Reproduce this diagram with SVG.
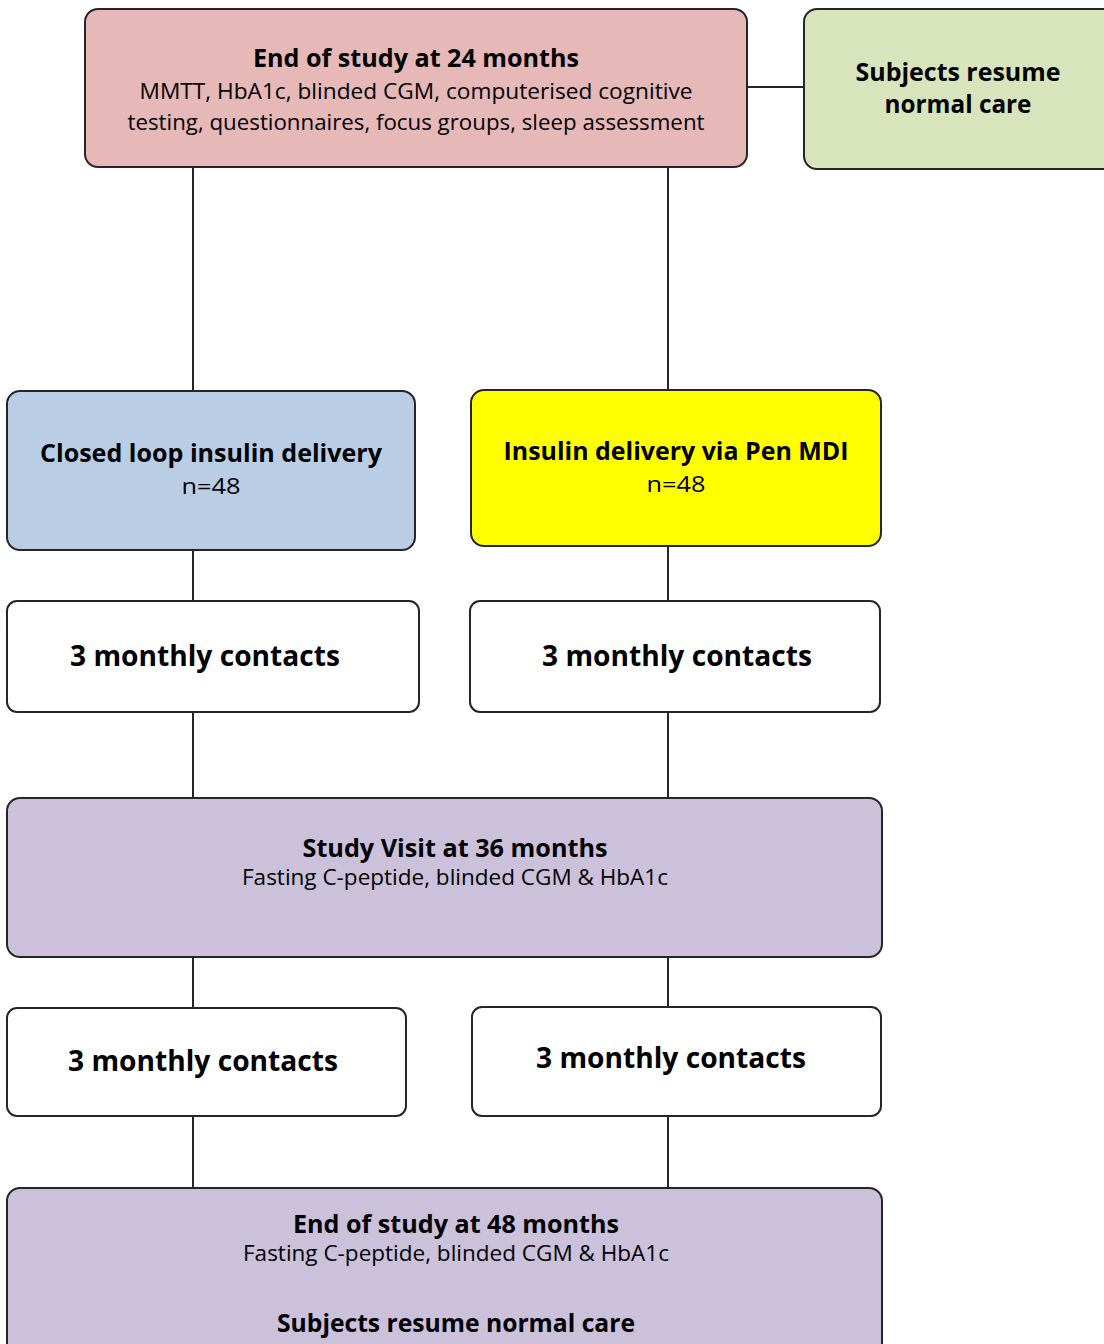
<svg xmlns="http://www.w3.org/2000/svg" width="1104" height="1344" viewBox="0 0 1104 1344">
<style>
.box{stroke:#262626;stroke-width:2}
.ln{stroke:#262626;stroke-width:2;fill:none}
text{font-family:"Open Sans","Noto Sans","Liberation Sans",sans-serif;fill:#000;text-anchor:middle}
.b{font-weight:bold}
.t{font-size:25px}
.s{font-size:21px}
.c{font-size:29px}
</style>
<rect width="1104" height="1344" fill="#ffffff"/>
<g id="connectors">
<line class="ln" x1="747" y1="87" x2="804" y2="87"/>
<line class="ln" x1="193" y1="167" x2="193" y2="391"/>
<line class="ln" x1="668" y1="167" x2="668" y2="390"/>
<line class="ln" x1="193" y1="550" x2="193" y2="601"/>
<line class="ln" x1="668" y1="546" x2="668" y2="601"/>
<line class="ln" x1="193" y1="712" x2="193" y2="798"/>
<line class="ln" x1="668" y1="712" x2="668" y2="798"/>
<line class="ln" x1="193" y1="957" x2="193" y2="1008"/>
<line class="ln" x1="668" y1="957" x2="668" y2="1007"/>
<line class="ln" x1="193" y1="1116" x2="193" y2="1188"/>
<line class="ln" x1="668" y1="1116" x2="668" y2="1188"/>
</g>
<g id="end24">
<rect class="box" x="85" y="9" width="662" height="158" rx="13" fill="#e6b8b7"/>
<text class="b t" x="416" y="67" textLength="326" lengthAdjust="spacingAndGlyphs">End of study at 24 months</text>
<text class="s" x="416" y="99" textLength="553" lengthAdjust="spacingAndGlyphs">MMTT, HbA1c, blinded CGM, computerised cognitive</text>
<text class="s" x="416" y="130" textLength="577" lengthAdjust="spacingAndGlyphs">testing, questionnaires, focus groups, sleep assessment</text>
</g>
<g id="resume-top">
<rect class="box" x="804" y="9" width="320" height="160" rx="13" fill="#d7e4bc"/>
<text class="b t" x="958" y="81" textLength="205" lengthAdjust="spacingAndGlyphs">Subjects resume</text>
<text class="b t" x="958" y="113" textLength="147" lengthAdjust="spacingAndGlyphs">normal care</text>
</g>
<g id="closed-loop">
<rect class="box" x="7" y="391" width="408" height="159" rx="13" fill="#b9cde5"/>
<text class="b t" x="211" y="462" textLength="342" lengthAdjust="spacingAndGlyphs">Closed loop insulin delivery</text>
<text class="s" x="211" y="494" textLength="59" lengthAdjust="spacingAndGlyphs">n=48</text>
</g>
<g id="pen-mdi">
<rect class="box" x="471" y="390" width="410" height="156" rx="13" fill="#ffff00"/>
<text class="b t" x="676" y="460" textLength="345" lengthAdjust="spacingAndGlyphs">Insulin delivery via Pen MDI</text>
<text class="s" x="676" y="492" textLength="59" lengthAdjust="spacingAndGlyphs">n=48</text>
</g>
<g id="contacts1-left">
<rect class="box" x="7" y="601" width="412" height="111" rx="10" fill="#ffffff"/>
<text class="b c" x="205" y="666" textLength="270" lengthAdjust="spacingAndGlyphs">3 monthly contacts</text>
</g>
<g id="contacts1-right">
<rect class="box" x="470" y="601" width="410" height="111" rx="10" fill="#ffffff"/>
<text class="b c" x="677" y="666" textLength="270" lengthAdjust="spacingAndGlyphs">3 monthly contacts</text>
</g>
<g id="visit36">
<rect class="box" x="7" y="798" width="875" height="159" rx="13" fill="#ccc1da"/>
<text class="b t" x="455" y="857" textLength="305" lengthAdjust="spacingAndGlyphs">Study Visit at 36 months</text>
<text class="s" x="455" y="885" textLength="426" lengthAdjust="spacingAndGlyphs">Fasting C-peptide, blinded CGM &amp; HbA1c</text>
</g>
<g id="contacts2-left">
<rect class="box" x="7" y="1008" width="399" height="108" rx="10" fill="#ffffff"/>
<text class="b c" x="203" y="1071" textLength="270" lengthAdjust="spacingAndGlyphs">3 monthly contacts</text>
</g>
<g id="contacts2-right">
<rect class="box" x="472" y="1007" width="409" height="109" rx="10" fill="#ffffff"/>
<text class="b c" x="671" y="1068" textLength="270" lengthAdjust="spacingAndGlyphs">3 monthly contacts</text>
</g>
<g id="end48">
<rect class="box" x="7" y="1188" width="875" height="175" rx="13" fill="#ccc1da"/>
<text class="b t" x="456" y="1233" textLength="326" lengthAdjust="spacingAndGlyphs">End of study at 48 months</text>
<text class="s" x="456" y="1261" textLength="426" lengthAdjust="spacingAndGlyphs">Fasting C-peptide, blinded CGM &amp; HbA1c</text>
<text class="b t" x="456" y="1332" textLength="358" lengthAdjust="spacingAndGlyphs">Subjects resume normal care</text>
</g>
</svg>
